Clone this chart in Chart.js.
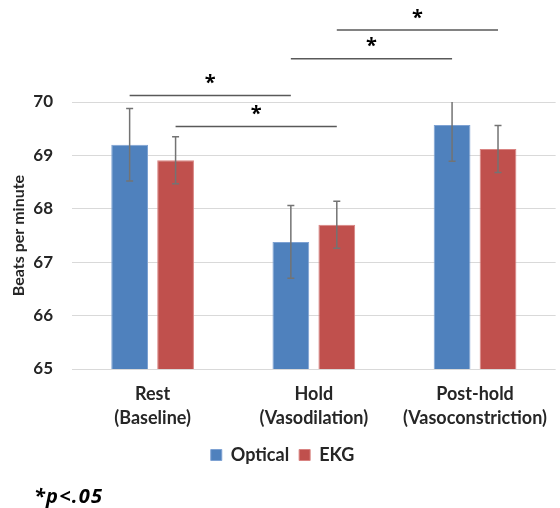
<!DOCTYPE html>
<html>
<head>
<meta charset="utf-8">
<script src="https://cdn.jsdelivr.net/npm/chart.js@4.4.0/dist/chart.umd.min.js"></script>
<style>
body { margin: 0; background: #fff; }
#wrap { position: relative; width: 560px; height: 508px; }
#nota { position: absolute; left: 34px; top: 482px; line-height: 1; letter-spacing: 1.2px; font: italic bold 20px "Open Sans", sans-serif; color: #000; }
</style>
</head>
<body>
<div id="wrap">
  <canvas id="grafico" width="560" height="508"></canvas>
  <div id="nota">*p&lt;.05</div>
</div>
<script>
// dati
var categorie = [['Rest', '(Baseline)'], ['Hold', '(Vasodilation)'], ['Post-hold', '(Vasoconstriction)']];
var ottico = [69.20, 67.38, 69.57];
var ekg = [68.91, 67.70, 69.12];
var erroreOttico = [0.68, 0.68, 0.68];
var erroreEkg = [0.44, 0.44, 0.44];
// linee di significatività: da [serie, categoria] a [serie, categoria] all'altezza sigLivello
var sigDa = [[0, 0], [1, 0], [0, 1], [1, 1]];
var sigA = [[0, 1], [1, 1], [0, 2], [1, 2]];
var sigLivello = [70.12, 69.54, 70.81, 71.35];

var testo = '#262626';

var barreErrore = {   // disegno le barre di errore sopra le colonne
  id: 'barreErrore',
  afterDatasetsDraw: function(chart) {
    var ctx = chart.ctx, y = chart.scales.y, area = chart.chartArea;
    var errori = [erroreOttico, erroreEkg];
    ctx.save();
    ctx.beginPath();
    ctx.rect(area.left, area.top, area.right - area.left, area.bottom - area.top);
    ctx.clip();
    ctx.strokeStyle = '#737373';
    ctx.lineWidth = 1.5;
    chart.data.datasets.forEach(function(ds, d) {
      chart.getDatasetMeta(d).data.forEach(function(bar, i) {
        var alto = y.getPixelForValue(ds.data[i] + errori[d][i]);
        var basso = y.getPixelForValue(ds.data[i] - errori[d][i]);
        ctx.beginPath();
        ctx.moveTo(bar.x, alto); ctx.lineTo(bar.x, basso);
        ctx.moveTo(bar.x - 3.5, alto); ctx.lineTo(bar.x + 3.5, alto);
        ctx.moveTo(bar.x - 3.5, basso); ctx.lineTo(bar.x + 3.5, basso);
        ctx.stroke();
      });
    });
    ctx.restore();
  }
};

var significativi = {   // linee con asterisco tra le colonne
  id: 'significativi',
  afterDraw: function(chart) {
    var ctx = chart.ctx, y = chart.scales.y;
    ctx.save();
    for (var k = 0; k < sigLivello.length; k++) {
      var x1 = chart.getDatasetMeta(sigDa[k][0]).data[sigDa[k][1]].x;
      var x2 = chart.getDatasetMeta(sigA[k][0]).data[sigA[k][1]].x;
      var yy = y.getPixelForValue(sigLivello[k]);
      ctx.strokeStyle = '#595959';
      ctx.lineWidth = 1.5;
      ctx.beginPath();
      ctx.moveTo(x1, yy); ctx.lineTo(x2, yy);
      ctx.stroke();
      ctx.fillStyle = '#000';
      ctx.font = 'bold 20px "Open Sans", sans-serif';
      ctx.textAlign = 'center';
      ctx.textBaseline = 'middle';
      ctx.fillText('*', (x1 + x2) / 2, yy - 12);
    }
    ctx.restore();
  }
};

var grafico = new Chart(document.getElementById('grafico'), {
  type: 'bar',
  data: {
    labels: categorie,
    datasets: [
      { label: 'Optical', data: ottico, backgroundColor: '#4F81BD', borderColor: '#7EA2D3', borderWidth: 1 },
      { label: 'EKG', data: ekg, backgroundColor: '#C0504D', borderColor: '#D98482', borderWidth: 1 }
    ]
  },
  options: {
    responsive: false,
    animation: false,
    categoryPercentage: 0.57,
    barPercentage: 0.8,
    layout: { padding: { top: 102, left: 5, right: 0, bottom: 34 } },
    plugins: {
      legend: {
        position: 'bottom',
        labels: { boxWidth: 11, boxHeight: 11, padding: 10, color: testo, font: { family: 'Lato', size: 18, weight: 'bold' } }
      },
      tooltip: { enabled: false }
    },
    scales: {
      x: {
        afterFit: function(scala) { scala.height -= 7; },
        grid: { display: false, drawTicks: false },
        border: { display: false },
        ticks: { color: testo, padding: 13, font: { family: 'Lato', size: 18, weight: 'bold', lineHeight: 1.333 } }
      },
      y: {
        min: 65,
        max: 70,
        afterFit: function(scala) { scala.width = 67; },
        ticks: { stepSize: 1, color: testo, padding: 19, font: { family: 'Lato', size: 17, weight: 'bold' } },
        grid: { color: '#D9D9D9', drawTicks: false },
        border: { display: false },
        title: { display: true, text: 'Beats per minute', color: testo, font: { family: 'Lato', size: 16, weight: 'bold' } }
      }
    }
  },
  plugins: [barreErrore, significativi]
});
</script>
</body>
</html>
